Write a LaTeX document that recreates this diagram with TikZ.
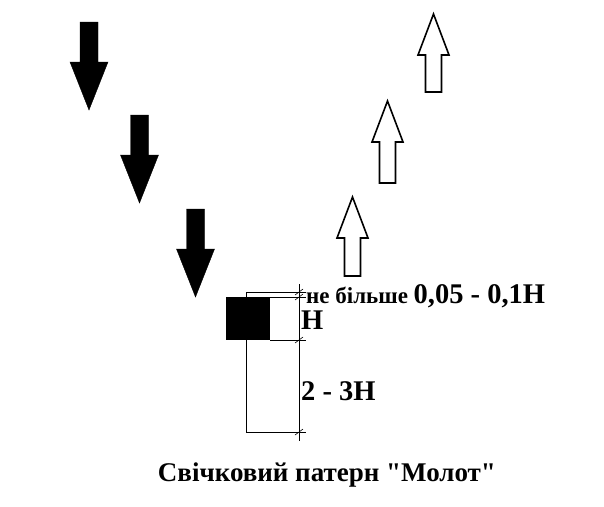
\documentclass[tikz,border=0pt]{standalone}
\usepackage{fontspec}
\setmainfont{Liberation Serif}[Ligatures=TeXOff]
\begin{document}
\begin{tikzpicture}[x=1pt,y=-1pt,
  downarr/.style={fill=black,draw=black},
  uparr/.style={fill=white,draw=black,line width=1.6pt},
  dim/.style={line width=0.6pt},
  lbl/.style={font=\bfseries,anchor=west,inner sep=0pt}]
\useasboundingbox (0,0) rectangle (604,506);
% down arrows
\foreach \x/\y in {89/22, 139.5/115, 195.5/209}{
  \path[downarr] (\x-9,\y) -- (\x+9,\y) -- (\x+9,\y+40) -- (\x+19,\y+40) -- (\x,\y+88) -- (\x-19,\y+40) -- (\x-9,\y+40) -- cycle;
}
% up arrows
\foreach \x/\y/\b in {352.5/197/276, 387.5/101/183, 433.5/14/92}{
  \path[uparr] (\x,\y) -- (\x+15.5,\y+41) -- (\x+8,\y+41) -- (\x+8,\b) -- (\x-8,\b) -- (\x-8,\y+41) -- (\x-15.5,\y+41) -- cycle;
}
% candle
\draw[line width=1pt] (246,292) -- (246,432);
\fill (226,297) rectangle (270,340);
% dimension
\draw[dim] (299,284) -- (299,441);
\draw[dim] (246,292) -- (306,292);
\draw[dim] (270,297) -- (306,297);
\draw[dim] (270,340) -- (306,340);
\draw[dim] (246,432) -- (306,432);
\foreach \y in {292,297,340,432}{ \draw[dim] (295,\y+3) -- (303,\y-3); }
\node[lbl] (t1) at (306,296) {\fontsize{23}{23}\selectfont не більше \fontsize{28.5}{28}\selectfont 0,05 - 0,1Н};
\node[lbl] (t2) at (301,320) {\fontsize{28.5}{28}\selectfont Н};
\node[lbl] (t3) at (301,391) {\fontsize{28.5}{28}\selectfont 2 - 3Н};
\node[font=\bfseries\fontsize{27}{27}\selectfont] (title) at (327,475) {Свічковий патерн "Молот"};
\end{tikzpicture}
\end{document}
